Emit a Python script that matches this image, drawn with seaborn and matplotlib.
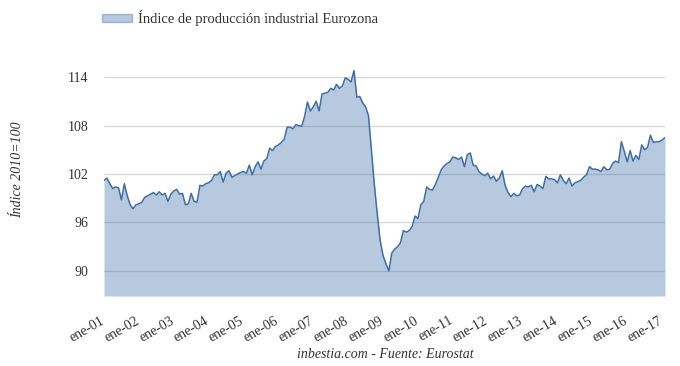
import numpy as np
import pandas as pd
import matplotlib
matplotlib.use("Agg")
import matplotlib.pyplot as plt
import seaborn as sns
from matplotlib.patches import Patch
from matplotlib.transforms import ScaledTranslation

# ---- data (monthly index, 2010=100), Jan 2001 .. Feb 2017 ----
v2001 = [101.2, 101.5, 100.8, 100.2, 100.4, 100.3, 98.8, 100.8, 99.3, 98.2, 97.7, 98.2]
v2002 = [98.3, 98.5, 99.1, 99.3, 99.5, 99.7, 99.4, 99.8, 99.4, 99.6, 98.6, 99.5]
v2003 = [99.9, 100.1, 99.5, 99.6, 98.2, 98.3, 99.6, 98.6, 98.5, 100.6, 100.5, 100.8]
v2004 = [100.9, 101.2, 101.9, 101.9, 102.3, 101.0, 102.1, 102.4, 101.6, 101.8, 102.0, 102.2]
v2005 = [102.3, 102.1, 103.1, 101.9, 102.9, 103.5, 102.6, 103.6, 103.9, 105.2, 104.9, 105.4]
v2006 = [105.6, 105.9, 106.3, 107.8, 107.8, 107.6, 108.1, 108.0, 107.9, 109.1, 110.9, 109.8]
v2007 = [110.3, 111.0, 109.8, 111.9, 112.0, 112.1, 112.6, 112.4, 113.1, 112.6, 112.9, 113.9]
v2008 = [113.7, 113.4, 114.8, 111.5, 111.6, 110.8, 110.3, 109.2, 105.0, 100.7, 97.1, 93.8]
v2009 = [91.9, 90.9, 90.0, 92.2, 92.7, 93.0, 93.5, 95.0, 94.8, 95.0, 95.5, 96.8]
v2010 = [96.5, 98.2, 98.6, 100.4, 100.1, 100.0, 100.7, 101.6, 102.5, 103.0, 103.3, 103.5]
v2011 = [104.1, 104.0, 103.8, 104.1, 102.9, 104.4, 104.6, 103.1, 103.0, 102.3, 102.0, 101.8]
v2012 = [102.1, 101.4, 101.75, 101.1, 101.5, 102.4, 100.6, 99.7, 99.2, 99.6, 99.3, 99.4]
v2013 = [100.2, 100.5, 100.4, 100.6, 99.8, 100.7, 100.5, 100.2, 101.7, 101.4, 101.4, 101.3]
v2014 = [100.9, 101.9, 101.2, 100.8, 101.5, 100.5, 100.9, 101.05, 101.2, 101.6, 101.9, 102.9]
v2015 = [102.6, 102.6, 102.5, 102.3, 102.9, 102.5, 102.6, 103.3, 103.6, 103.4, 106.0, 104.8]
v2016 = [103.5, 104.9, 103.6, 104.3, 103.8, 105.6, 105.0, 105.3, 106.8, 105.9, 106.0, 106.0]
v2017 = [106.2, 106.5]

indice = (v2001 + v2002 + v2003 + v2004 + v2005 + v2006 + v2007 + v2008 + v2009
          + v2010 + v2011 + v2012 + v2013 + v2014 + v2015 + v2016 + v2017)

x_labels = ["ene-01", "ene-02", "ene-03", "ene-04", "ene-05", "ene-06", "ene-07",
            "ene-08", "ene-09", "ene-10", "ene-11", "ene-12", "ene-13", "ene-14",
            "ene-15", "ene-16", "ene-17"]
y_ticks = [90, 96, 102, 108, 114]
serie = "Índice de producción industrial Eurozona"

df = pd.DataFrame({"mes": np.arange(len(indice)), "valor": indice})

# ---- style ----
sns.set_style("white")
plt.rcParams["font.family"] = ["Liberation Serif", "DejaVu Serif"]

line_col = "#3d6ea6"
fill_col = "#4a78ae"
text_col = "#333333"
ymin, ymax = 86.9, 117.0

fig = plt.figure(figsize=(6.8, 3.66), dpi=100)
ax = fig.add_axes([104 / 680, 70 / 366, (665 - 104) / 680, (296 - 52.8) / 366])

ax.fill_between(df["mes"], df["valor"], ymin, color=fill_col, alpha=0.4, lw=0, zorder=1)
sns.lineplot(data=df, x="mes", y="valor", color=line_col, lw=1.1, ax=ax, zorder=2)

ax.set_xlim(0, len(indice) - 1)
ax.set_ylim(ymin, ymax)
ax.set_yticks(y_ticks)
ax.set_yticklabels([str(t) for t in y_ticks])
ax.set_xticks(np.arange(0, 12 * len(x_labels), 12))
ax.set_xticklabels(x_labels, rotation=30, ha="right", va="top", rotation_mode="anchor")
ax.yaxis.grid(True, color="#d8d8d8", lw=1)
ax.xaxis.grid(False)
ax.set_axisbelow(True)
for s in ax.spines.values():
    s.set_visible(False)
ax.tick_params(axis="both", length=0, colors=text_col, labelsize=10)
ax.tick_params(axis="y", pad=11)
ax.tick_params(axis="x", pad=13)
shift = ScaledTranslation(-4 / 100, 0, fig.dpi_scale_trans)
for lab in ax.get_xticklabels():
    lab.set_transform(lab.get_transform() + shift)
ax.set_xlabel("")
ax.set_ylabel("")

fig.text(18 / 680, 1 - 170 / 366, "Índice 2010=100", rotation=90, style="italic",
         ha="center", va="center", fontsize=10, color=text_col)
fig.text(385 / 680, 1 - 355 / 366, "inbestia.com - Fuente: Eurostat", style="italic",
         ha="center", va="center", fontsize=10, color=text_col)

handle = Patch(facecolor=fill_col, alpha=0.4, edgecolor=line_col, lw=1)
fig.legend([handle], [serie], loc="center left", bbox_to_anchor=(96 / 680, 1 - 18 / 366),
           frameon=False, fontsize=10.5, handlelength=2.1, handleheight=0.45,
           handletextpad=0.35, labelcolor=text_col, borderaxespad=0)

fig.savefig("out.png", dpi=100)
